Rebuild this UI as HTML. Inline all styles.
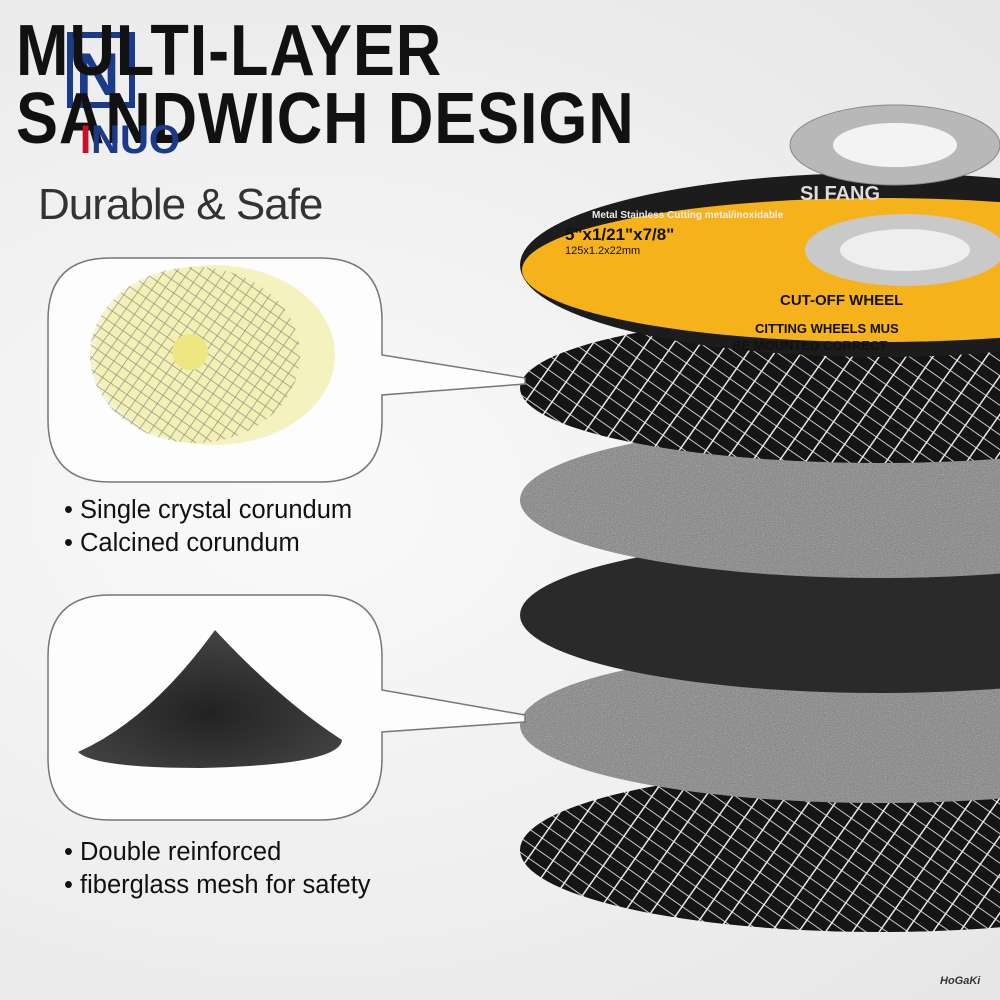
<!DOCTYPE html>
<html><head><meta charset="utf-8">
<style>
html,body{margin:0;padding:0}
body{width:1000px;height:1000px;overflow:hidden;background:radial-gradient(ellipse at 30% 50%,#fafafa 0%,#eeeeee 60%,#e6e6e6 100%);font-family:"Liberation Sans",sans-serif;position:relative}
.t{position:absolute;font-weight:bold;color:#111;font-size:72px;letter-spacing:1px;line-height:1;transform:scaleX(0.875);transform-origin:0 0;white-space:nowrap}
.sub{position:absolute;left:38px;top:180px;font-size:44px;color:#333;letter-spacing:-1px}
.b{position:absolute;left:64px;font-size:25.5px;color:#111;line-height:33px}
</style></head><body>
<svg width="1000" height="1000" style="position:absolute;left:0;top:0">
<defs>
<pattern id="mesh" width="22" height="22" patternUnits="userSpaceOnUse" patternTransform="rotate(35) scale(1,0.55)">
<rect width="22" height="22" fill="#151515"/>
<path d="M0 0H22M0 0V22" stroke="#e8e8e8" stroke-width="3"/>
</pattern>
<pattern id="mesh2" width="10" height="10" patternUnits="userSpaceOnUse" patternTransform="rotate(35)">
<rect width="10" height="10" fill="#f2eeb0"/>
<path d="M0 0H10M0 0V10" stroke="#555" stroke-width="1.5"/>
</pattern>
<filter id="noise" x="0" y="0" width="100%" height="100%">
<feTurbulence type="fractalNoise" baseFrequency="0.9" numOctaves="2" result="n"/>
<feComposite in="n" in2="SourceGraphic" operator="in" result="c"/>
<feColorMatrix in="c" type="saturate" values="0"/>
</filter>
<radialGradient id="grit" cx="50%" cy="60%" r="60%"><stop offset="0" stop-color="#222"/><stop offset="1" stop-color="#444"/></radialGradient>
</defs>
<ellipse cx="880" cy="850" rx="360" ry="82" fill="url(#mesh)"/>
<ellipse cx="880" cy="725" rx="360" ry="78" fill="#7a7a7a"/>
<ellipse cx="880" cy="725" rx="360" ry="78" fill="#999" filter="url(#noise)" opacity="0.7"/>
<ellipse cx="880" cy="615" rx="360" ry="78" fill="#2a2a2a"/>
<ellipse cx="880" cy="500" rx="360" ry="78" fill="#7a7a7a"/>
<ellipse cx="880" cy="500" rx="360" ry="78" fill="#999" filter="url(#noise)" opacity="0.7"/>
<ellipse cx="880" cy="388" rx="360" ry="75" fill="url(#mesh)"/>
<ellipse cx="880" cy="265" rx="360" ry="92" fill="#1c1c1c"/>
<ellipse cx="880" cy="270" rx="358" ry="72" fill="#f5b21a"/>
<ellipse cx="905" cy="250" rx="100" ry="36" fill="#c9c9c9"/>
<ellipse cx="905" cy="250" rx="65" ry="21" fill="#eee"/>
<ellipse cx="895" cy="145" rx="105" ry="40" fill="#b8b8b8" stroke="#888"/>
<ellipse cx="895" cy="145" rx="62" ry="22" fill="#f3f3f3"/>
<text x="592" y="218" font-size="10" fill="#eee" font-family="Liberation Sans" font-weight="bold">Metal Stainless Cutting metal/inoxidable</text>
<text x="800" y="200" font-size="20" fill="#ddd" font-family="Liberation Sans" font-weight="bold">SI FANG</text>
<text x="565" y="240" font-size="17" fill="#111" font-family="Liberation Sans" font-weight="bold">5"x1/21"x7/8"</text>
<text x="565" y="254" font-size="11" fill="#111" font-family="Liberation Sans">125x1.2x22mm</text>
<text x="780" y="305" font-size="15" fill="#111" font-family="Liberation Sans" font-weight="bold">CUT-OFF WHEEL</text>
<text x="755" y="333" font-size="13" fill="#111" font-family="Liberation Sans" font-weight="bold">CITTING WHEELS MUS</text>
<text x="732" y="350" font-size="13" fill="#111" font-family="Liberation Sans" font-weight="bold">BE MOUNTED CORRECT</text>
<path d="M110 258 H320 Q382 258 382 320 V355 L525 378 L525 384 L382 395 V420 Q382 482 320 482 H110 Q48 482 48 420 V320 Q48 258 110 258Z" fill="#fdfdfd" stroke="#777" stroke-width="1.5"/>
<ellipse cx="215" cy="355" rx="120" ry="90" fill="#f3efb0" opacity="0.8"/>
<ellipse cx="195" cy="355" rx="105" ry="88" fill="url(#mesh2)" opacity="0.6"/>
<circle cx="190" cy="352" r="18" fill="#eee680"/>
<path d="M110 595 H320 Q382 595 382 657 V690 L525 715 L525 722 L382 732 V758 Q382 820 320 820 H110 Q48 820 48 758 V657 Q48 595 110 595Z" fill="#fdfdfd" stroke="#777" stroke-width="1.5"/>
<path d="M78 752 Q150 720 215 630 Q280 700 342 740 Q340 765 200 768 Q95 768 78 752Z" fill="url(#grit)"/>
<rect x="70" y="35" width="62" height="70" fill="none" stroke="#1b3a8c" stroke-width="6"/>
<text x="76" y="95" font-size="60" fill="#1b3a8c" font-family="Liberation Sans" font-weight="bold">N</text>
</svg>
<div class="t" style="left:16px;top:15px">MULTI-LAYER</div>
<div class="t" style="left:16px;top:83px">SANDWICH DESIGN</div>
<div style="position:absolute;left:80px;top:118px;font-size:40px;font-weight:bold;color:#1b3a8c"><span style="color:#c8102e">I</span>NUO</div>
<div class="sub">Durable &amp; Safe</div>
<div class="b" style="top:494px">• Single crystal corundum<br>• Calcined corundum</div>
<div class="b" style="top:836px">• Double reinforced<br>• fiberglass mesh for safety</div>
<div style="position:absolute;left:940px;top:975px;font-size:11px;font-style:italic;font-weight:bold;color:#333">HoGaKi</div>
</body></html>
